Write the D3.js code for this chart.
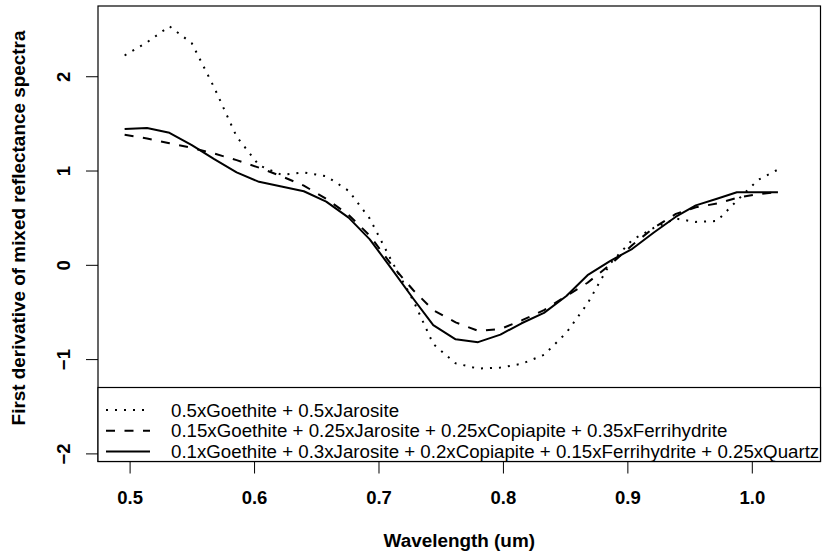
<!DOCTYPE html>
<html>
<head>
<meta charset="utf-8">
<script src="https://cdn.jsdelivr.net/npm/d3@7"></script>
<style>
  body { margin: 0; background: #fff; }
  svg { display: block; font-family: "Liberation Sans", Arial, sans-serif; }
</style>
</head>
<body>
<svg width="824" height="554"></svg>
<script>
const width = 824;
const height = 554;

// wavelength (um)
const wavelength = [0.496, 0.514, 0.532, 0.550, 0.568, 0.586, 0.604, 0.622, 0.640, 0.658,
    0.676, 0.693, 0.711, 0.728, 0.744, 0.762, 0.780, 0.798, 0.815, 0.833,
    0.851, 0.868, 0.886, 0.904, 0.921, 0.939, 0.955, 0.972, 0.988, 1.005, 1.021];

// 0.5 Goethite + 0.5 Jarosite (dotted)
const mixA = [2.22, 2.36, 2.53, 2.35, 1.88, 1.36, 1.055, 0.955, 0.98, 0.94,
    0.785, 0.49, 0.03, -0.38, -0.84, -1.045, -1.10, -1.09, -1.05, -0.955,
    -0.72, -0.41, 0.01, 0.265, 0.39, 0.49, 0.455, 0.465, 0.68, 0.90, 1.01];

// 4-mineral mix (dashed)
const mixB = [1.38, 1.34, 1.29, 1.24, 1.18, 1.11, 1.03, 0.94, 0.84, 0.70,
    0.53, 0.31, -0.01, -0.27, -0.48, -0.61, -0.70, -0.68, -0.59, -0.48,
    -0.33, -0.19, 0.00, 0.21, 0.39, 0.54, 0.61, 0.65, 0.71, 0.75, 0.77];

// 5-mineral mix (solid)
const mixC = [1.44, 1.45, 1.40, 1.27, 1.12, 0.98, 0.88, 0.83, 0.78, 0.67,
    0.50, 0.27, -0.05, -0.36, -0.64, -0.79, -0.82, -0.74, -0.62, -0.51,
    -0.33, -0.11, 0.04, 0.17, 0.34, 0.51, 0.63, 0.70, 0.77, 0.77, 0.77];

const legendLabels = [
    "0.5xGoethite + 0.5xJarosite",
    "0.15xGoethite + 0.25xJarosite + 0.25xCopiapite + 0.35xFerrihydrite",
    "0.1xGoethite + 0.3xJarosite + 0.2xCopiapite + 0.15xFerrihydrite + 0.25xQuartz"
];
const xTicks = [0.5, 0.6, 0.7, 0.8, 0.9, 1.0];
const yTicks = [-2, -1, 0, 1, 2];

const plot = { left: 98, right: 820.5, top: 6, bottom: 461.5 };

const svg = d3.select("svg")
    .attr("viewBox", [0, 0, width, height]);

const x = d3.scaleLinear()
    .domain([0.4746, 1.0552])
    .range([plot.left, plot.right]);

const y = d3.scaleLinear()
    .domain([-2.086, 2.745])
    .range([plot.bottom, plot.top]);

const series = [
    { values: mixA, dash: "2,7" },
    { values: mixB, dash: "9,9.5" },
    { values: mixC, dash: null }
];

const line = d3.line()
    .x((d, i) => x(wavelength[i]))
    .y(d => y(d));

svg.append("g")
    .selectAll("path")
    .data(series)
    .join("path")
    .attr("d", d => line(d.values))
    .attr("fill", "none")
    .attr("stroke", "#000")
    .attr("stroke-width", 2)
    .attr("stroke-linejoin", "round")
    .attr("stroke-dasharray", d => d.dash);

// axes
const xAxis = svg.append("g")
    .attr("transform", `translate(0,${plot.bottom})`)
    .call(d3.axisBottom(x).tickValues(xTicks).tickFormat(d3.format(".1f")).tickSize(12).tickPadding(17));

const yAxis = svg.append("g")
    .attr("transform", `translate(${plot.left},0)`)
    .call(d3.axisLeft(y).tickValues(yTicks).tickFormat(d => d < 0 ? "\u2212" + Math.abs(d) : d).tickSize(12));

[xAxis, yAxis].forEach(g => {
    g.select(".domain").remove();
    g.selectAll("line").attr("stroke", "#000").attr("stroke-width", 1);
    g.selectAll("text")
        .attr("fill", "#000")
        .attr("font-family", "'Liberation Sans', Arial, sans-serif")
        .attr("font-size", 18.5)
        .attr("font-weight", "bold");
});
xAxis.selectAll("text").attr("dy", "0.71em");

yAxis.selectAll("text")
    .attr("x", null)
    .attr("dy", null)
    .attr("text-anchor", "middle")
    .attr("transform", "translate(-28,0) rotate(-90)")
    .attr("y", 0);

// box
svg.append("rect")
    .attr("x", plot.left)
    .attr("y", plot.top)
    .attr("width", plot.right - plot.left)
    .attr("height", plot.bottom - plot.top)
    .attr("fill", "none")
    .attr("stroke", "#000")
    .attr("stroke-width", 1.2);

// legend
const legendTop = 387.5;
svg.append("rect")
    .attr("x", plot.left)
    .attr("y", legendTop)
    .attr("width", plot.right - plot.left)
    .attr("height", plot.bottom - legendTop)
    .attr("fill", "#fff")
    .attr("stroke", "#000")
    .attr("stroke-width", 1.2);

const legend = svg.append("g")
    .selectAll("g")
    .data(series)
    .join("g")
    .attr("transform", (d, i) => `translate(0,${410 + i * 20.7})`);

legend.append("line")
    .attr("x1", 106)
    .attr("x2", 150)
    .attr("stroke", "#000")
    .attr("stroke-width", 2)
    .attr("stroke-dasharray", d => d.dash);

legend.append("text")
    .attr("x", 171)
    .attr("dy", "0.35em")
    .attr("font-size", 18.7)
    .text((d, i) => legendLabels[i]);

// axis titles
svg.append("text")
    .attr("x", (plot.left + plot.right) / 2)
    .attr("y", 547)
    .attr("text-anchor", "middle")
    .attr("font-size", 18.9)
    .attr("font-weight", "bold")
    .text("Wavelength (um)");

svg.append("text")
    .attr("transform", `translate(25,228) rotate(-90)`)
    .attr("text-anchor", "middle")
    .attr("font-size", 18.9)
    .attr("font-weight", "bold")
    .text("First derivative of mixed reflectance spectra");
</script>
</body>
</html>
